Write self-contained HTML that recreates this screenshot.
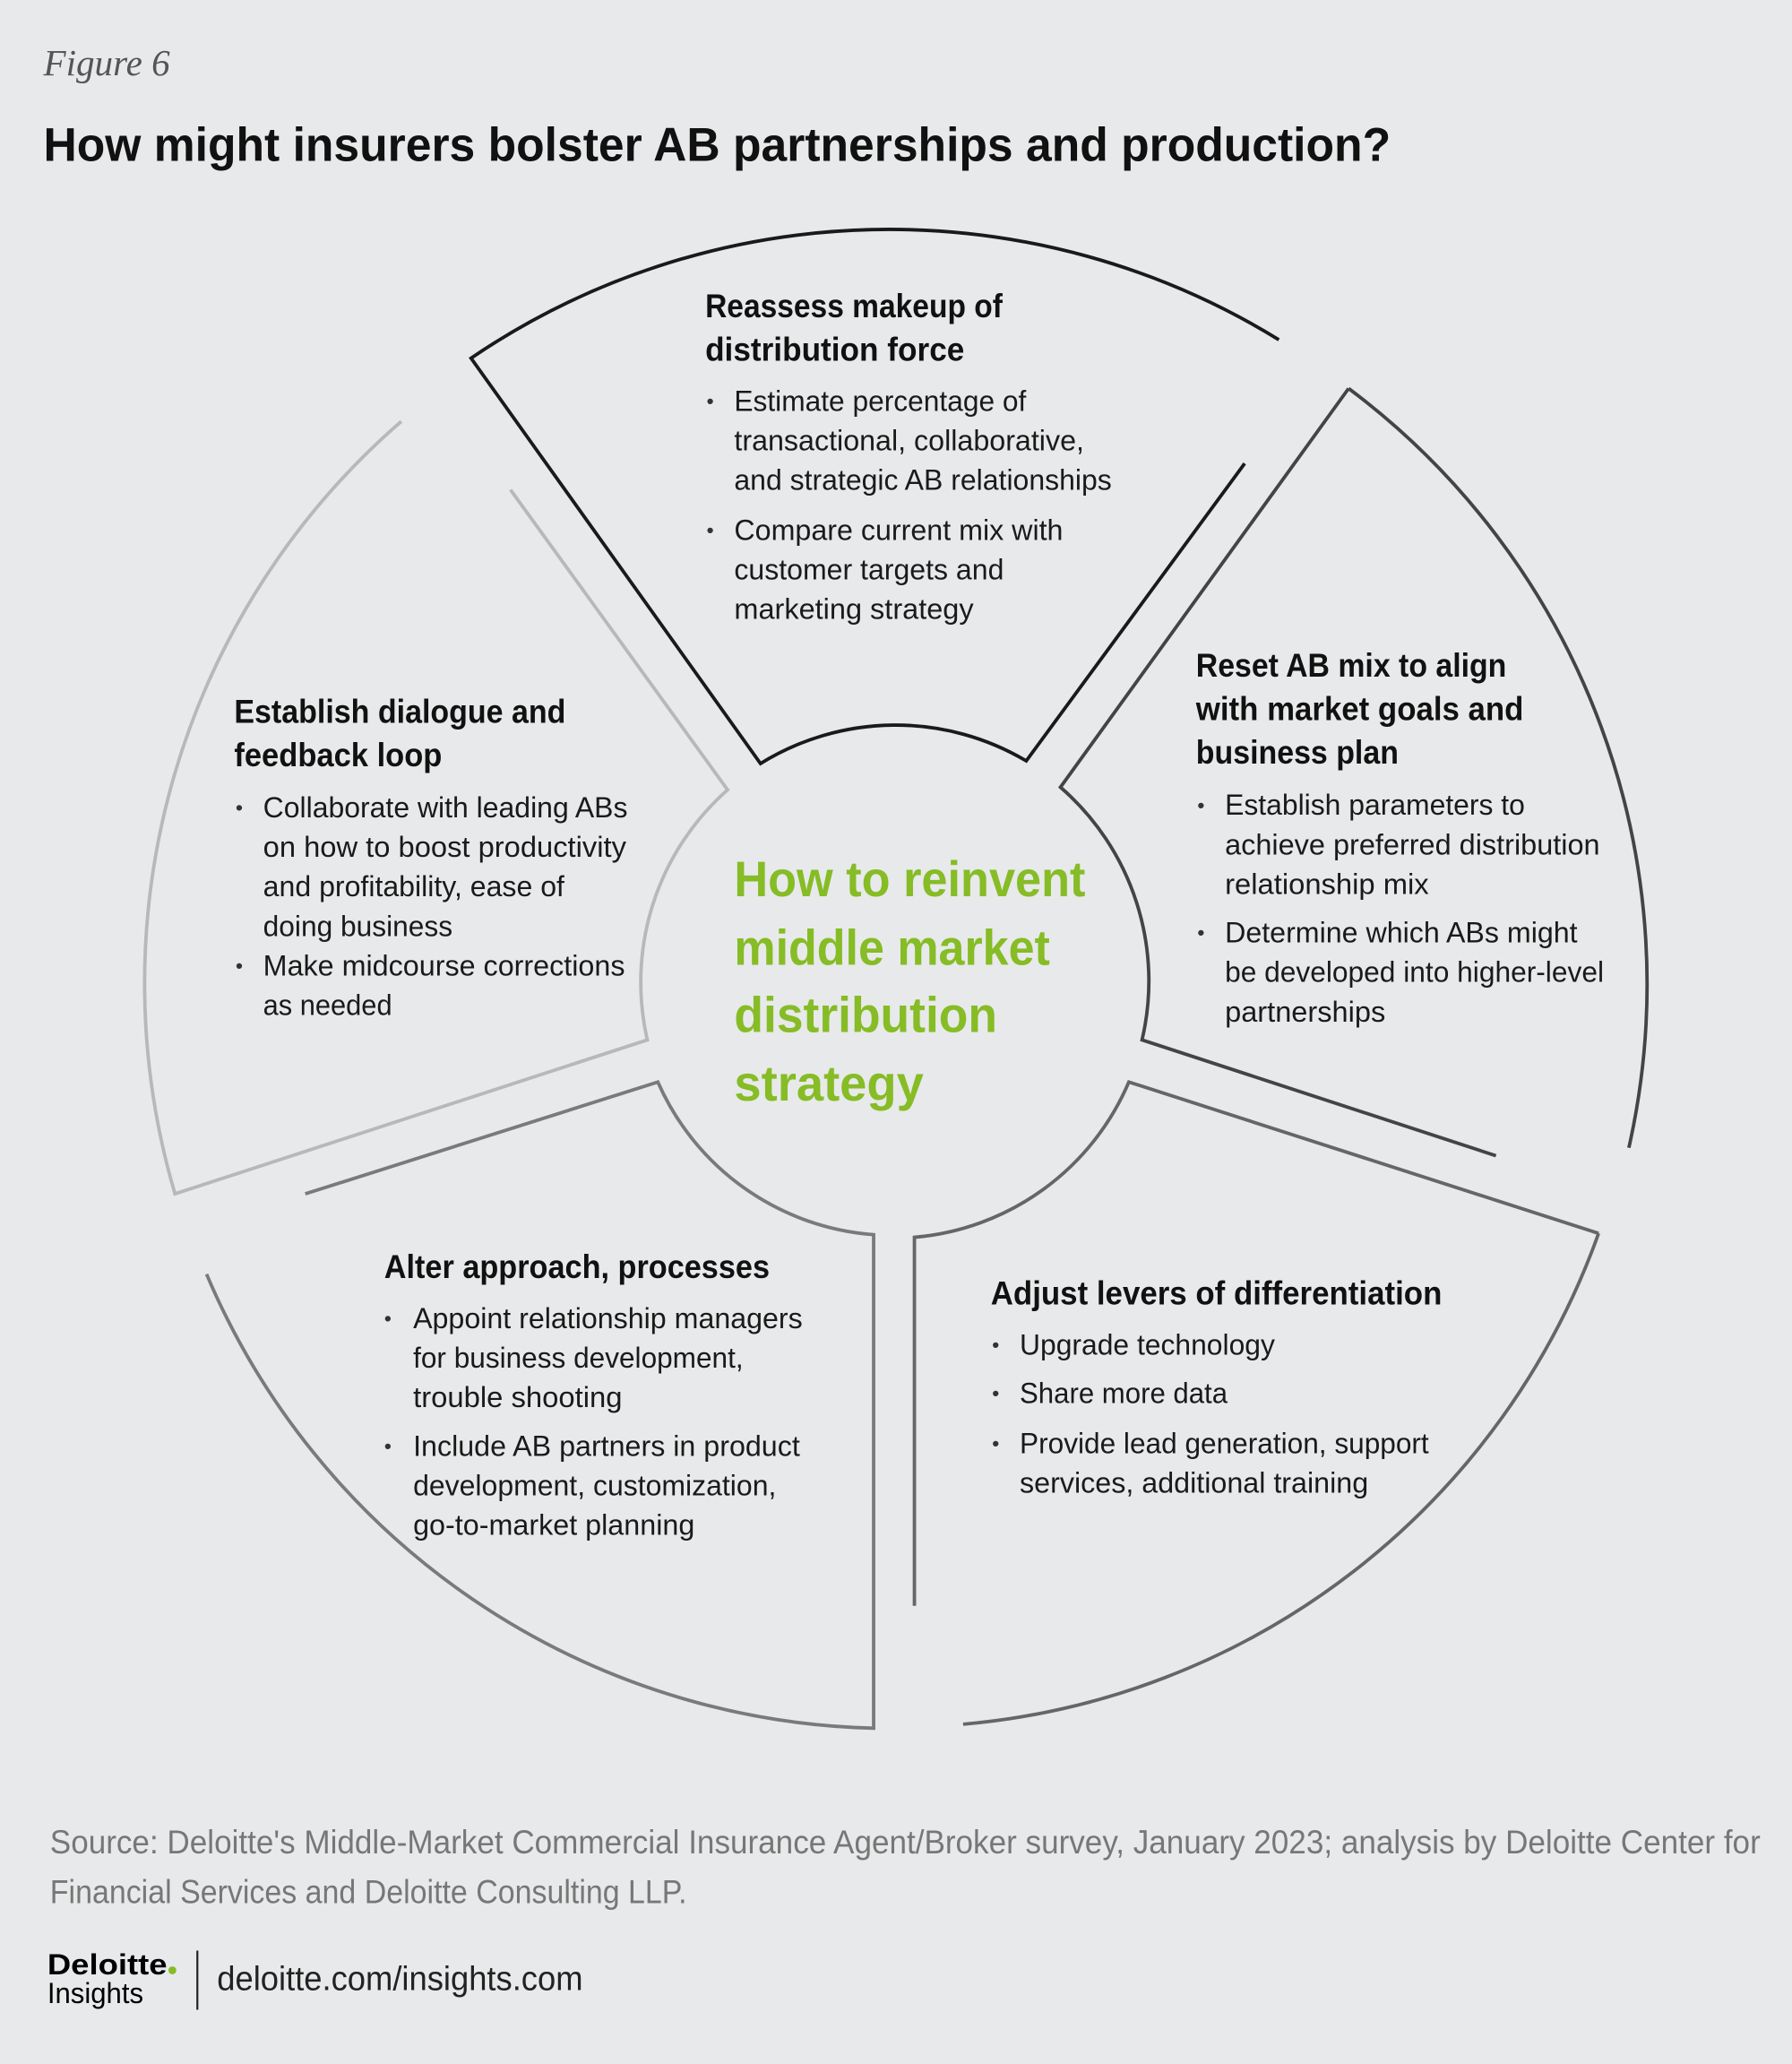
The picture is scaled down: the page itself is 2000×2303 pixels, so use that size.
<!DOCTYPE html>
<html><head><meta charset="utf-8"><style>
html,body{margin:0;padding:0;background:#e8e9ea;}
svg{display:block;}
text{font-family:"Liberation Sans",sans-serif;}
.h{font-weight:bold;font-size:25px;fill:#111;}
.b{font-size:22px;fill:#1a1a1a;}
.bu{font-size:16px;fill:#333;}
.c{font-weight:bold;font-size:38px;fill:#86bc25;}
.s{font-size:25px;fill:#777;}
</style></head><body>
<svg width="2000" height="2303" viewBox="0 0 1362 1568" xmlns="http://www.w3.org/2000/svg">
<rect width="1362" height="1568" fill="#e8e9ea"/>
<text x="33" y="57" style="font-family:'Liberation Serif',serif;font-style:italic;font-size:28px;fill:#555">Figure 6</text>
<text x="33" y="122" style="font-weight:bold;font-size:36px;fill:#111" textLength="1024" lengthAdjust="spacingAndGlyphs">How might insurers bolster AB partnerships and production?</text>

<g fill="none" stroke-width="2.6">
<path d="M972,258 A565,565 0 0 0 358,272 L578,580 A195,195 0 0 1 780,578 L946,352" stroke="#1a1a1a"/>
<path d="M1025,295 A565,565 0 0 1 1238,872 M1025,295 L806,598 A195,195 0 0 1 868,790 L1137,878" stroke="#444"/>
<path d="M1215,937 A565,565 0 0 1 732,1310 M1215,937 L858,822 A195,195 0 0 1 695,940 L695,1220" stroke="#666"/>
<path d="M232,907 L500,822 A195,195 0 0 0 664,938 L664,1313 A565,565 0 0 1 157,968" stroke="#7a7a7a"/>
<path d="M305,320 A565,565 0 0 0 133,907 L492,790 A195,195 0 0 1 553,600 L388,372" stroke="#b8b8b8"/>
</g>

<!-- top -->
<text class="h" x="536" y="241" textLength="226" lengthAdjust="spacingAndGlyphs">Reassess makeup of</text>
<text class="h" x="536" y="274" textLength="197" lengthAdjust="spacingAndGlyphs">distribution force</text>
<text class="bu" x="537" y="310">•</text><text class="bu" x="537" y="408">•</text>
<text class="b" x="558" y="312" textLength="222" lengthAdjust="spacingAndGlyphs">Estimate percentage of</text>
<text class="b" x="558" y="342" textLength="266" lengthAdjust="spacingAndGlyphs">transactional, collaborative,</text>
<text class="b" x="558" y="372" textLength="287" lengthAdjust="spacingAndGlyphs">and strategic AB relationships</text>
<text class="b" x="558" y="410" textLength="250" lengthAdjust="spacingAndGlyphs">Compare current mix with</text>
<text class="b" x="558" y="440" textLength="205" lengthAdjust="spacingAndGlyphs">customer targets and</text>
<text class="b" x="558" y="470" textLength="182" lengthAdjust="spacingAndGlyphs">marketing strategy</text>

<!-- right -->
<text class="h" x="909" y="514" textLength="236" lengthAdjust="spacingAndGlyphs">Reset AB mix to align</text>
<text class="h" x="909" y="547" textLength="249" lengthAdjust="spacingAndGlyphs">with market goals and</text>
<text class="h" x="909" y="580" textLength="154" lengthAdjust="spacingAndGlyphs">business plan</text>
<text class="bu" x="910" y="617">•</text><text class="bu" x="910" y="714">•</text>
<text class="b" x="931" y="619" textLength="228" lengthAdjust="spacingAndGlyphs">Establish parameters to</text>
<text class="b" x="931" y="649" textLength="285" lengthAdjust="spacingAndGlyphs">achieve preferred distribution</text>
<text class="b" x="931" y="679" textLength="155" lengthAdjust="spacingAndGlyphs">relationship mix</text>
<text class="b" x="931" y="716" textLength="268" lengthAdjust="spacingAndGlyphs">Determine which ABs might</text>
<text class="b" x="931" y="746" textLength="288" lengthAdjust="spacingAndGlyphs">be developed into higher-level</text>
<text class="b" x="931" y="776" textLength="122" lengthAdjust="spacingAndGlyphs">partnerships</text>

<!-- left -->
<text class="h" x="178" y="549" textLength="252" lengthAdjust="spacingAndGlyphs">Establish dialogue and</text>
<text class="h" x="178" y="582" textLength="158" lengthAdjust="spacingAndGlyphs">feedback loop</text>
<text class="bu" x="179" y="619">•</text><text class="bu" x="179" y="739">•</text>
<text class="b" x="200" y="621" textLength="277" lengthAdjust="spacingAndGlyphs">Collaborate with leading ABs</text>
<text class="b" x="200" y="651" textLength="276" lengthAdjust="spacingAndGlyphs">on how to boost productivity</text>
<text class="b" x="200" y="681" textLength="229" lengthAdjust="spacingAndGlyphs">and profitability, ease of</text>
<text class="b" x="200" y="711" textLength="144" lengthAdjust="spacingAndGlyphs">doing business</text>
<text class="b" x="200" y="741" textLength="275" lengthAdjust="spacingAndGlyphs">Make midcourse corrections</text>
<text class="b" x="200" y="771" textLength="98" lengthAdjust="spacingAndGlyphs">as needed</text>

<!-- bottom-left -->
<text class="h" x="292" y="971" textLength="293" lengthAdjust="spacingAndGlyphs">Alter approach, processes</text>
<text class="bu" x="292" y="1007">•</text><text class="bu" x="292" y="1104">•</text>
<text class="b" x="314" y="1009" textLength="296" lengthAdjust="spacingAndGlyphs">Appoint relationship managers</text>
<text class="b" x="314" y="1039" textLength="251" lengthAdjust="spacingAndGlyphs">for business development,</text>
<text class="b" x="314" y="1069" textLength="159" lengthAdjust="spacingAndGlyphs">trouble shooting</text>
<text class="b" x="314" y="1106" textLength="294" lengthAdjust="spacingAndGlyphs">Include AB partners in product</text>
<text class="b" x="314" y="1136" textLength="276" lengthAdjust="spacingAndGlyphs">development, customization,</text>
<text class="b" x="314" y="1166" textLength="214" lengthAdjust="spacingAndGlyphs">go-to-market planning</text>

<!-- bottom-right -->
<text class="h" x="753" y="991" textLength="343" lengthAdjust="spacingAndGlyphs">Adjust levers of differentiation</text>
<text class="bu" x="754" y="1027">•</text><text class="bu" x="754" y="1064">•</text><text class="bu" x="754" y="1102">•</text>
<text class="b" x="775" y="1029" textLength="194" lengthAdjust="spacingAndGlyphs">Upgrade technology</text>
<text class="b" x="775" y="1066" textLength="158" lengthAdjust="spacingAndGlyphs">Share more data</text>
<text class="b" x="775" y="1104" textLength="311" lengthAdjust="spacingAndGlyphs">Provide lead generation, support</text>
<text class="b" x="775" y="1134" textLength="265" lengthAdjust="spacingAndGlyphs">services, additional training</text>

<!-- center -->
<text class="c" x="558" y="681" textLength="267" lengthAdjust="spacingAndGlyphs">How to reinvent</text>
<text class="c" x="558" y="733" textLength="240" lengthAdjust="spacingAndGlyphs">middle market</text>
<text class="c" x="558" y="784" textLength="200" lengthAdjust="spacingAndGlyphs">distribution</text>
<text class="c" x="558" y="836" textLength="144" lengthAdjust="spacingAndGlyphs">strategy</text>

<!-- source -->
<text class="s" x="38" y="1408" textLength="1300" lengthAdjust="spacingAndGlyphs">Source: Deloitte's Middle-Market Commercial Insurance Agent/Broker survey, January 2023; analysis by Deloitte Center for</text>
<text class="s" x="38" y="1446" textLength="484" lengthAdjust="spacingAndGlyphs">Financial Services and Deloitte Consulting LLP.</text>

<!-- footer -->
<text x="36" y="1500" style="font-weight:bold;font-size:22px;fill:#000" textLength="91" lengthAdjust="spacingAndGlyphs">Deloitte</text>
<circle cx="131" cy="1497" r="3" fill="#86bc25"/>
<text x="36" y="1522" style="font-size:22px;fill:#000" textLength="73" lengthAdjust="spacingAndGlyphs">Insights</text>
<line x1="150" y1="1482" x2="150" y2="1527" stroke="#222" stroke-width="1.5"/>
<text x="165" y="1512" style="font-size:26px;fill:#222" textLength="278" lengthAdjust="spacingAndGlyphs">deloitte.com/insights.com</text>
</svg>
</body></html>
